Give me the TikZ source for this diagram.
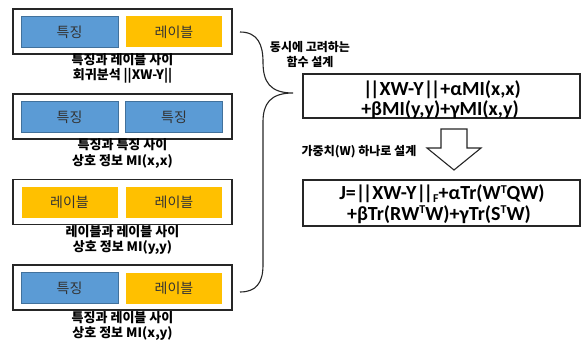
\documentclass[tikz,border=0pt]{standalone}
\usepackage{fontspec}
\setmainfont{Noto Sans CJK KR}
\newfontfamily\formfont{Carlito}
\newcommand\dbars{|\kern-2.5pt|}
\newcommand\supT{\raisebox{6.5pt}{\fontsize{12pt}{12pt}\selectfont T}}
\newcommand\subF{\raisebox{-3pt}{\fontsize{12pt}{12pt}\selectfont F}}
\definecolor{featblue}{HTML}{5B9BD5}
\definecolor{featedge}{HTML}{41719C}
\definecolor{labyellow}{HTML}{FFC000}
\definecolor{boxedge}{HTML}{262626}
\definecolor{intext}{HTML}{333333}
\tikzset{
  outerbox/.style={draw=boxedge, line width=1.2pt, minimum width=219pt, minimum height=45pt, inner sep=0pt},
  featbox/.style={fill=featblue, draw=featedge, line width=0.6pt, minimum width=97pt, minimum height=31pt, inner sep=0pt, text=intext, font=\fontsize{14pt}{16pt}\selectfont},
  labbox/.style={fill=labyellow, minimum width=96pt, minimum height=31pt, inner sep=0pt, text=intext, font=\fontsize{14pt}{16pt}\selectfont},
  caption/.style={align=center, inner sep=0pt, font=\bfseries\fontsize{13pt}{15.5pt}\selectfont},
  notetext/.style={align=center, inner sep=0pt, font=\bfseries\fontsize{12pt}{15pt}\selectfont},
  formbox/.style={draw=boxedge, line width=1.2pt, minimum width=277pt, inner sep=0pt},
  formline/.style={anchor=base, inner sep=0pt, font=\formfont\bfseries\fontsize{20pt}{20pt}\selectfont},
  bracestyle/.style={draw=boxedge, line width=1.1pt},
  hollowarrow/.style={draw=boxedge, line width=1.1pt, fill=white, line join=miter}
}
\begin{document}
\begin{tikzpicture}[x=1pt, y=-1pt]
\useasboundingbox (0,0) rectangle (581,345);
% left column
\node[outerbox] (o1) at (122.5,31.5) {};
\node[featbox] (f1) at (69.5,32) {특징};
\node[labbox] (l1) at (174,32) {레이블};
\node[caption] (c1) at (122.5,68.5) {특징과 레이블 사이\\회귀분석 ||XW-Y||};

\node[outerbox] (o2) at (122.5,116.5) {};
\node[featbox] (f2a) at (69.5,117) {특징};
\node[featbox] (f2b) at (174,117) {특징};
\node[caption] (c2) at (122.5,153.5) {특징과 특징 사이\\상호 정보 MI(x,x)};

\node[outerbox] (o3) at (122.5,202) {};
\node[labbox] (l3a) at (69.5,202.5) {레이블};
\node[labbox] (l3b) at (174,202.5) {레이블};
\node[caption] (c3) at (122.5,240) {레이블과 레이블 사이\\상호 정보 MI(y,y)};

\node[outerbox] (o4) at (122.5,287.5) {};
\node[featbox] (f4) at (69.5,288) {특징};
\node[labbox] (l4) at (174,288) {레이블};
\node[caption] (c4) at (122.5,326) {특징과 레이블 사이\\상호 정보 MI(x,y)};

% brace
\coordinate (btop) at (240,32);
\coordinate (bbot) at (240,292);
\coordinate (btip) at (293,93);
\draw[bracestyle] (btop) .. controls (258,32) and (263,45) .. (263,62)
  .. controls (263,82) and (270,93) .. (btip)
  .. controls (270,93) and (263,104) .. (263,122)
  -- (263,265) .. controls (263,283) and (256,292) .. (bbot);

\node[notetext] (n1) at (310,54.5) {동시에 고려하는\\함수 설계};

% formula boxes
\node[formbox, minimum height=44pt] (F1) at (441.5,96) {};
\node[formline] (F1a) at (442,95.5) {\dbars XW-Y\dbars+αMI(x,x)};
\node[formline] (F1b) at (440,115.5) {+βMI(y,y)+γMI(x,y)};
\node[formbox, minimum height=46pt] (F2) at (441.5,203) {};
\node[formline] (F2a) at (442,199.5) {J=\dbars XW-Y\dbars\subF+αTr(W\supT QW)};
\node[formline] (F2b) at (439,220) {+βTr(RW\supT W)+γTr(S\supT W)};

% hollow arrow
\draw[hollowarrow] (441,129) -- (467,129) -- (467,148) -- (481,148) -- (454,170) -- (427,148) -- (441,148) -- cycle;
\node[notetext] (n2) at (359,152) {가중치(W) 하나로 설계};
\end{tikzpicture}
\end{document}
